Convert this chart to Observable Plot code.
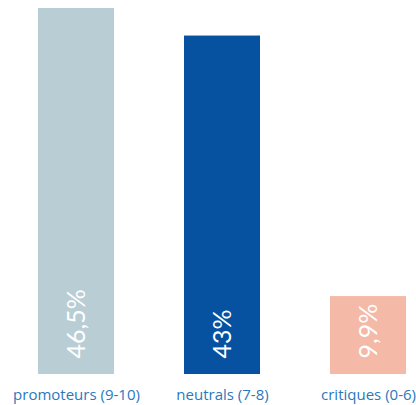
<!DOCTYPE html>
<html><head><meta charset="utf-8">
<script src="https://cdn.jsdelivr.net/npm/d3@7"></script>
<script src="https://cdn.jsdelivr.net/npm/@observablehq/plot@0.6"></script>
<style>body{margin:0;background:#fff;font-family:Lato,sans-serif}svg{overflow:visible}</style>
</head><body><div id="chart"></div>
<script>
const categories = ["promoteurs (9-10)", "neutrals (7-8)", "critiques (0-6)"];
const values = [46.5, 43, 9.9];
const labels = ["46,5%", "43%", "9,9%"];
const colors = ["#b9cdd4", "#0652a0", "#f5b9a8"];
const data = categories.map((c, i) => ({cat: c, v: values[i], label: labels[i]}));
const chart = Plot.plot({
  width: 416, height: 405,
  marginTop: 8, marginBottom: 31, marginLeft: 38, marginRight: 10,
  style: {fontFamily: "Lato, sans-serif", background: "#fff"},
  x: {domain: categories, paddingInner: 0.48, paddingOuter: 0, label: null},
  y: {domain: [0, 46.5], axis: null},
  color: {domain: categories, range: colors},
  marks: [
    Plot.barY(data, {x: "cat", y: "v", fill: "cat"}),
    Plot.text(data, {x: "cat", y: 0, text: "label", rotate: -90, textAnchor: "start", dy: -16, fill: "white", fontSize: 25}),
    Plot.axisX({tickSize: 0, tickPadding: 15, fontSize: 15, fontFamily: "Open Sans, sans-serif", fill: "#2a78bd", label: null})
  ]
});
document.getElementById("chart").append(chart);
</script></body></html>
